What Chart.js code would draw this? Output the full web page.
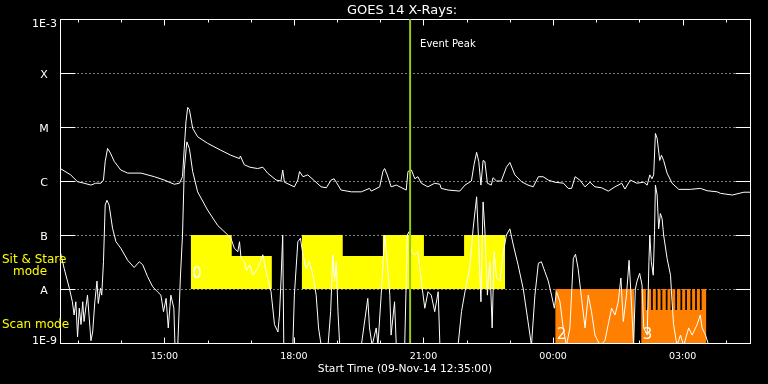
<!DOCTYPE html>
<html>
<head>
<meta charset="utf-8">
<title>GOES 14 X-Rays</title>
<script src="https://cdn.jsdelivr.net/npm/chart.js@4.4.1/dist/chart.umd.min.js"></script>
<style>
  html, body { margin: 0; padding: 0; background: #000; }
  #wrap { width: 768px; height: 384px; }
</style>
</head>
<body>
<div id="wrap"><canvas id="grafico" width="768" height="384"></canvas></div>
<script>
// tempo em horas desde 09-Nov-14 00:00 (24+ = dia seguinte)
const inicio = 12 + 35 / 60;
const fim = inicio + 16;

// canal longo (1-8 A), W/m2
const longoHoras = [12.59,12.83,12.99,13.14,13.30,13.41,13.53,13.59,13.63,13.685,
  13.75,13.84,13.99,14.15,14.46,14.77,15.00,15.23,15.35,15.42,
  15.46,15.50,15.54,15.58,15.655,15.77,16.00,16.31,16.54,16.74,
  16.76,16.85,16.98,17.16,17.28,17.39,17.59,17.70,17.74,17.78,
  18.01,18.09,18.13,18.21,18.32,18.48,18.63,18.75,18.86,18.93,
  18.98,19.09,19.33,19.56,19.75,19.79,19.985,20.06,20.10,20.16,
  20.25,20.37,20.60,20.64,20.72,20.80,20.87,20.95,21.10,21.26,
  21.38,21.41,21.57,21.84,21.96,22.11,22.17,22.23,22.28,22.33,
  22.38,22.42,22.48,22.57,22.61,22.69,22.80,22.92,23.00,23.115,
  23.27,23.42,23.54,23.66,23.77,23.89,24.04,24.24,24.35,24.43,
  24.51,24.62,24.74,24.855,24.97,25.12,25.28,25.435,25.59,25.665,
  25.79,25.94,26.10,26.18,26.24,26.29,26.33,26.37,26.41,26.47,
  26.51,26.56,26.64,26.755,26.91,27.18,27.41,27.57,27.80,27.88,
  28.15,28.42,28.57];
const longoFluxo = [1.7e-6,1.3e-6,9.7e-7,9.1e-7,8.4e-7,9.1e-7,9.1e-7,1.04e-6,2.3e-6,4.0e-6,
  3.3e-6,2.3e-6,1.6e-6,1.4e-6,1.4e-6,1.2e-6,1.04e-6,8.7e-7,9.1e-7,1.2e-6,
  4.0e-6,1.25e-5,2.3e-5,2.1e-5,9.5e-6,6.6e-6,5.0e-6,3.7e-6,3.0e-6,2.6e-6,
  2.9e-6,2.0e-6,1.8e-6,1.7e-6,1.8e-6,1.4e-6,1.04e-6,1.0e-6,1.6e-6,9.5e-7,
  7.8e-7,1.04e-6,1.5e-6,1.2e-6,1.3e-6,1.0e-6,7.8e-7,7.5e-7,1.04e-6,1.1e-6,
  9.5e-7,6.8e-7,6.3e-7,6.3e-7,7.3e-7,6.5e-7,7.8e-7,1.5e-6,1.7e-6,1.3e-6,
  7.8e-7,8.4e-7,6.8e-7,1.5e-6,1.6e-6,1.1e-6,1.2e-6,9.1e-7,7.8e-7,9.1e-7,
  8.7e-7,7.3e-7,6.8e-7,6.5e-7,8.4e-7,1.0e-6,2.0e-6,3.4e-6,2.3e-6,8.4e-7,
  2.4e-6,2.3e-6,9.1e-7,8.4e-7,1.15e-6,1.0e-6,1.0e-6,1.8e-6,2.2e-6,1.3e-6,
  9.7e-7,8.4e-7,7.8e-7,1.2e-6,1.2e-6,1.04e-6,9.5e-7,9.1e-7,7.3e-7,7.3e-7,
  1.2e-6,1.04e-6,7.8e-7,9.5e-7,7.8e-7,7.5e-7,6.5e-7,7.8e-7,9.1e-7,7.1e-7,
  1.04e-6,9.1e-7,9.5e-7,8.4e-7,1.3e-6,1.1e-6,1.3e-6,7.6e-6,6.2e-6,2.4e-6,
  3.0e-6,2.4e-6,1.4e-6,9.1e-7,7.0e-7,7.0e-7,7.3e-7,6.6e-7,6.3e-7,5.9e-7,
  5.5e-7,6.2e-7,6.2e-7];

// canal curto (0.5-4 A), W/m2 (abaixo de 1E-9 some do grafico)
const curtoHoras = [12.59,12.68,12.80,12.87,12.91,12.95,12.99,13.03,13.07,13.11,
  13.14,13.22,13.30,13.34,13.39,13.44,13.47,13.52,13.55,13.59,
  13.63,13.67,13.72,13.80,13.88,13.99,14.15,14.30,14.42,14.50,
  14.61,14.73,14.84,14.92,14.98,15.04,15.09,15.15,15.22,15.245,
  15.31,15.37,15.42,15.46,15.52,15.58,15.655,15.77,16.00,16.235,
  16.47,16.54,16.62,16.70,16.74,16.775,16.855,16.90,16.98,17.05,
  17.16,17.28,17.355,17.47,17.55,17.63,17.665,17.70,17.74,17.765,
  17.975,18.01,18.09,18.15,18.21,18.28,18.36,18.44,18.515,18.57,
  18.63,18.79,18.85,18.90,18.94,18.98,19.02,19.06,19.56,19.71,
  19.75,19.81,19.905,19.945,20.02,20.10,20.16,20.22,20.25,20.33,
  20.37,20.565,20.625,20.665,20.72,20.80,20.87,20.95,21.03,21.105,
  21.18,21.26,21.34,21.38,21.80,21.88,21.96,22.07,22.15,22.23,
  22.27,22.33,22.38,22.42,22.48,22.535,22.59,22.635,22.69,22.77,
  22.84,22.92,23.00,23.08,23.19,23.31,23.42,23.50,23.58,23.66,
  23.73,23.81,23.89,23.965,24.03,24.08,24.16,24.235,24.31,24.39,
  24.47,24.52,24.58,24.66,24.74,24.815,24.89,24.97,25.09,25.20,
  25.355,25.435,25.51,25.57,25.627,25.70,25.76,25.805,25.865,25.905,
  25.945,26.005,26.06,26.10,26.18,26.22,26.24,26.275,26.32,26.35,
  26.37,26.41,26.445,26.485,26.525,26.56,26.64,26.72,26.755,26.79,
  26.87,26.95,27.025,27.14,27.22,27.335,27.41,27.45,27.53,27.605,28.57];
const curtoFluxo = [4.9e-8,2.4e-8,1.03e-8,5.8e-9,3.3e-9,5.8e-9,1.3e-9,4.4e-9,2.2e-9,5.8e-9,
  2.5e-9,7.7e-9,1.1e-9,1.6e-9,5.8e-9,1.4e-8,5.4e-9,1.03e-8,7.7e-9,3.2e-8,
  3.6e-7,4.4e-7,3.6e-7,1.33e-7,7.5e-8,5.7e-8,3.4e-8,2.5e-8,3.2e-8,2.8e-8,
  1.7e-8,1.1e-8,8.9e-9,7.7e-9,3.8e-9,6.7e-9,1.9e-9,7.7e-9,4.4e-9,9e-10,
  9e-10,1.6e-8,1.0e-7,1.6e-6,5.3e-6,4.0e-6,1.5e-6,6.3e-7,2.9e-7,1.5e-7,
  1.0e-7,8.7e-8,5.7e-8,4.9e-8,7.5e-8,3.7e-8,3.2e-8,2.2e-8,2.8e-8,1.8e-8,
  2.4e-8,4.3e-8,2.1e-8,8.9e-9,2.2e-9,1.6e-9,3.3e-9,1.4e-8,1.0e-7,9e-10,
  9e-10,7.7e-9,7.5e-8,8.7e-8,4.3e-8,2.4e-8,3.2e-8,1.8e-8,7.7e-9,1.9e-9,
  9e-10,9e-10,3.8e-9,4.3e-8,1.4e-8,3.2e-8,3.8e-9,9e-10,9e-10,6.7e-9,
  1.9e-9,9e-10,1.9e-9,9e-10,7.7e-9,1.0e-7,3.2e-8,7.7e-9,1.4e-9,5.8e-9,
  9e-10,9e-10,1.0e-7,1.15e-7,4.9e-8,4.3e-8,4.9e-8,1.4e-8,4.4e-9,8.9e-9,
  7.7e-9,3.8e-9,8.9e-9,9e-10,9e-10,3.8e-9,8.9e-9,2.4e-8,1.33e-7,5.1e-7,
  1.0e-7,5.8e-9,4.1e-7,1.3e-7,7.7e-9,3.2e-8,1.9e-9,4.9e-8,1.6e-8,1.4e-8,
  4.3e-8,1.0e-7,1.3e-7,6.5e-8,2.8e-8,1.0e-8,2.5e-9,9e-10,7.7e-9,3.0e-8,
  3.2e-8,2.1e-8,1.4e-8,7.7e-9,4.4e-9,8.9e-9,5.8e-9,1.9e-9,9e-10,1.9e-9,
  3.7e-8,4.4e-8,2.4e-8,6.7e-9,1.9e-9,7.7e-9,3.8e-9,1.4e-9,9e-10,1.1e-9,
  4.4e-9,3.3e-9,5.8e-9,1.6e-8,2.5e-9,7.7e-9,3.4e-8,7.7e-9,9e-10,1.0e-8,
  1.4e-8,1.95e-8,1.19e-8,1.9e-9,1.4e-9,3.2e-8,1.0e-7,3.2e-8,1.8e-8,1.2e-7,
  8.4e-7,5.5e-7,1.3e-7,2.5e-7,2.0e-7,1.0e-7,3.7e-8,1.8e-8,5.8e-9,2.2e-9,
  9e-10,1.4e-9,9e-10,1.9e-9,1.4e-9,2.2e-9,3.3e-9,1.9e-9,1.4e-9,9e-10,9e-10];

// modo "Sit & Stare" (2 = linha cheia, 1 = meia linha)
const sitInicio = [15.61, 16.56, 18.18, 19.13, 20.06, 21.01, 21.94];
const sitFim    = [16.56, 17.49, 19.13, 20.06, 21.01, 21.94, 22.89];
const sitNivel  = [2, 1, 2, 1, 2, 1, 2];

// modo "Scan"
const scanInicio = [24.05, 26.04];
const scanFim    = [25.88, 27.55];
// pequenas falhas no segundo bloco de scan
const scanFalhas = [26.15, 26.27, 26.38, 26.49, 26.61, 26.72, 26.83, 26.95, 27.06, 27.18, 27.29, 27.40];

// numeros dos blocos
const blocoHoras = [15.61, 24.05, 26.04];
const blocoTextos = ['0', '2', '3'];
const blocoModo = ['sit', 'scan', 'scan'];

const picoEvento = 20.69;

// eixos
const nivelValores = [1e-3, 1e-4, 1e-5, 1e-6, 1e-7, 1e-8, 1e-9];
const nivelTextos = ['1E-3', 'X', 'M', 'C', 'B', 'A', '1E-9'];
const horaTicks = [13, 14, 15, 16, 17, 18, 19, 20, 21, 22, 23, 24, 25, 26, 27, 28];
const horaRotulos = [15, 18, 21, 24, 27];
const horaTextos = ['15:00', '18:00', '21:00', '00:00', '03:00'];

const AMARELO = '#ffff00';
const LARANJA = '#ff8000';
const VERDE = '#96c814';

const juntar = (xs, ys) => xs.map((x, i) => ({ x: x, y: ys[i] }));

// linha em degraus para os blocos de modo
const blocosModo = (ini, fim, topo) => {
    const pts = [];
    for (let i = 0; i < ini.length; i++) {
        pts.push({ x: ini[i], y: topo[i] });
        const prox = ini[i + 1];
        if (prox === undefined || prox > fim[i] + 1e-6) {
            pts.push({ x: fim[i], y: topo[i] });
            pts.push({ x: fim[i], y: null });
        }
    }
    return pts;
};

const sitTopo = sitNivel.map(n => n === 2 ? 1e-7 : 4.1e-8);

const scanPontos = [];
scanInicio.forEach((ini, i) => {
    scanPontos.push({ x: ini, y: 1e-8 });
    scanFalhas.filter(f => f > ini && f < scanFim[i]).forEach(f => {
        scanPontos.push({ x: f, y: 4.1e-9 });
        scanPontos.push({ x: f + 0.04, y: 1e-8 });
    });
    scanPontos.push({ x: scanFim[i], y: 1e-8 });
    scanPontos.push({ x: scanFim[i], y: null });
});

const moldura = {
    id: 'moldura',
    beforeDraw(chart) {
        const ctx = chart.ctx;
        ctx.save();
        ctx.fillStyle = '#000';
        ctx.fillRect(0, 0, chart.width, chart.height);
        ctx.restore();
    },
    beforeDatasetsDraw(chart) {
        const { ctx, chartArea: a, scales } = chart;
        const esq = a.left + 0.5, dir = a.right - 0.5, cima = a.top + 0.5, baixo = a.bottom + 0.5;
        ctx.save();
        ctx.strokeStyle = '#fff';
        ctx.lineWidth = 1;

        // grade pontilhada nos niveis X, M, C, B, A
        nivelValores.slice(1, -1).forEach(v => {
            const y = Math.round(scales.y.getPixelForValue(v)) + 0.5;
            ctx.setLineDash([1, 3]);
            ctx.beginPath();
            ctx.moveTo(esq + 17, y);
            ctx.lineTo(dir - 15, y);
            ctx.stroke();
            ctx.setLineDash([]);
            ctx.beginPath();
            ctx.moveTo(esq, y); ctx.lineTo(esq + 15, y);
            ctx.moveTo(dir - 15, y); ctx.lineTo(dir, y);
            ctx.stroke();
        });

        ctx.strokeRect(esq, cima, dir - esq, baixo - cima);

        // ticks de hora em cima e embaixo
        horaTicks.forEach(h => {
            const x = Math.round(scales.x.getPixelForValue(h)) + 0.5;
            const t = horaRotulos.includes(h) ? 6 : 3;
            ctx.beginPath();
            ctx.moveTo(x, cima); ctx.lineTo(x, cima + t);
            ctx.moveTo(x, baixo); ctx.lineTo(x, baixo - t);
            ctx.stroke();
        });
        ctx.restore();
    },
    afterDraw(chart) {
        const { ctx, chartArea: a, scales } = chart;
        ctx.save();
        ctx.fillStyle = '#fff';

        ctx.font = '13px "DejaVu Sans"';
        ctx.textAlign = 'center';
        ctx.fillText('GOES 14 X-Rays:', 402, 14);

        ctx.font = '10.7px "DejaVu Sans"';
        ctx.fillText('Start Time (09-Nov-14 12:35:00)', 405, 372);

        ctx.font = '9.5px "DejaVu Sans"';
        horaRotulos.forEach((h, i) => {
            ctx.fillText(horaTextos[i], scales.x.getPixelForValue(h), 359);
        });

        // rotulos do eixo y
        ctx.font = '11px "DejaVu Sans"';
        nivelValores.forEach((v, i) => {
            let y = scales.y.getPixelForValue(v) + 4.5;
            if (i === 0) y = a.top + 8;
            if (i === nivelValores.length - 1) y = a.bottom + 1;
            if (nivelTextos[i].length > 1) {
                ctx.textAlign = 'right';
                ctx.fillText(nivelTextos[i], 57, y);
            } else {
                ctx.textAlign = 'center';
                ctx.fillText(nivelTextos[i], 44, y);
            }
        });

        ctx.textAlign = 'left';
        ctx.font = '10px "DejaVu Sans"';
        ctx.fillText('Event Peak', scales.x.getPixelForValue(picoEvento) + 10, 47);

        // numeros dos blocos
        ctx.font = '15px "DejaVu Sans"';
        blocoHoras.forEach((h, i) => {
            const base = blocoModo[i] === 'sit' ? 278 : 339;
            ctx.fillText(blocoTextos[i], scales.x.getPixelForValue(h) + 1.5, base);
        });

        ctx.fillStyle = AMARELO;
        ctx.font = '12px "DejaVu Sans"';
        ctx.fillText('Sit & Stare', 2, 263);
        ctx.fillText('mode', 13, 275);
        ctx.fillText('Scan mode', 2, 328);
        ctx.restore();
    }
};

const ctxGrafico = document.getElementById('grafico').getContext('2d');
const graficoGoes = new Chart(ctxGrafico, {
    type: 'line',
    data: {
        datasets: [
            {
                label: 'Event Peak',
                data: [{ x: picoEvento, y: 1e-3 }, { x: picoEvento, y: 1e-9 }],
                borderColor: VERDE,
                borderWidth: 2,
                pointRadius: 0,
                order: 1
            },
            {
                label: 'Long',
                data: juntar(longoHoras, longoFluxo),
                borderColor: '#fff',
                borderWidth: 1,
                pointRadius: 0,
                tension: 0,
                order: 2
            },
            {
                label: 'Short',
                data: juntar(curtoHoras, curtoFluxo),
                borderColor: '#fff',
                borderWidth: 1,
                pointRadius: 0,
                tension: 0,
                order: 3
            },
            {
                label: 'Sit & Stare',
                data: blocosModo(sitInicio, sitFim, sitTopo),
                borderColor: 'rgba(0,0,0,0)',
                backgroundColor: AMARELO,
                borderWidth: 1,
                stepped: true,
                fill: { value: 1e-8 },
                pointRadius: 0,
                order: 5
            },
            {
                label: 'Scan',
                data: scanPontos,
                borderColor: 'rgba(0,0,0,0)',
                backgroundColor: LARANJA,
                borderWidth: 1,
                stepped: true,
                fill: { value: 1e-9 },
                pointRadius: 0,
                order: 5
            }
        ]
    },
    options: {
        responsive: false,
        animation: false,
        devicePixelRatio: 1,
        layout: { padding: { left: 60, right: 17, top: 19, bottom: 41 } },
        scales: {
            x: { type: 'linear', display: false, min: inicio, max: fim },
            y: { type: 'logarithmic', display: false, min: 1e-9, max: 1e-3 }
        },
        plugins: {
            legend: { display: false },
            tooltip: { enabled: false },
            title: { display: false }
        }
    },
    plugins: [moldura]
});
</script>
</body>
</html>
